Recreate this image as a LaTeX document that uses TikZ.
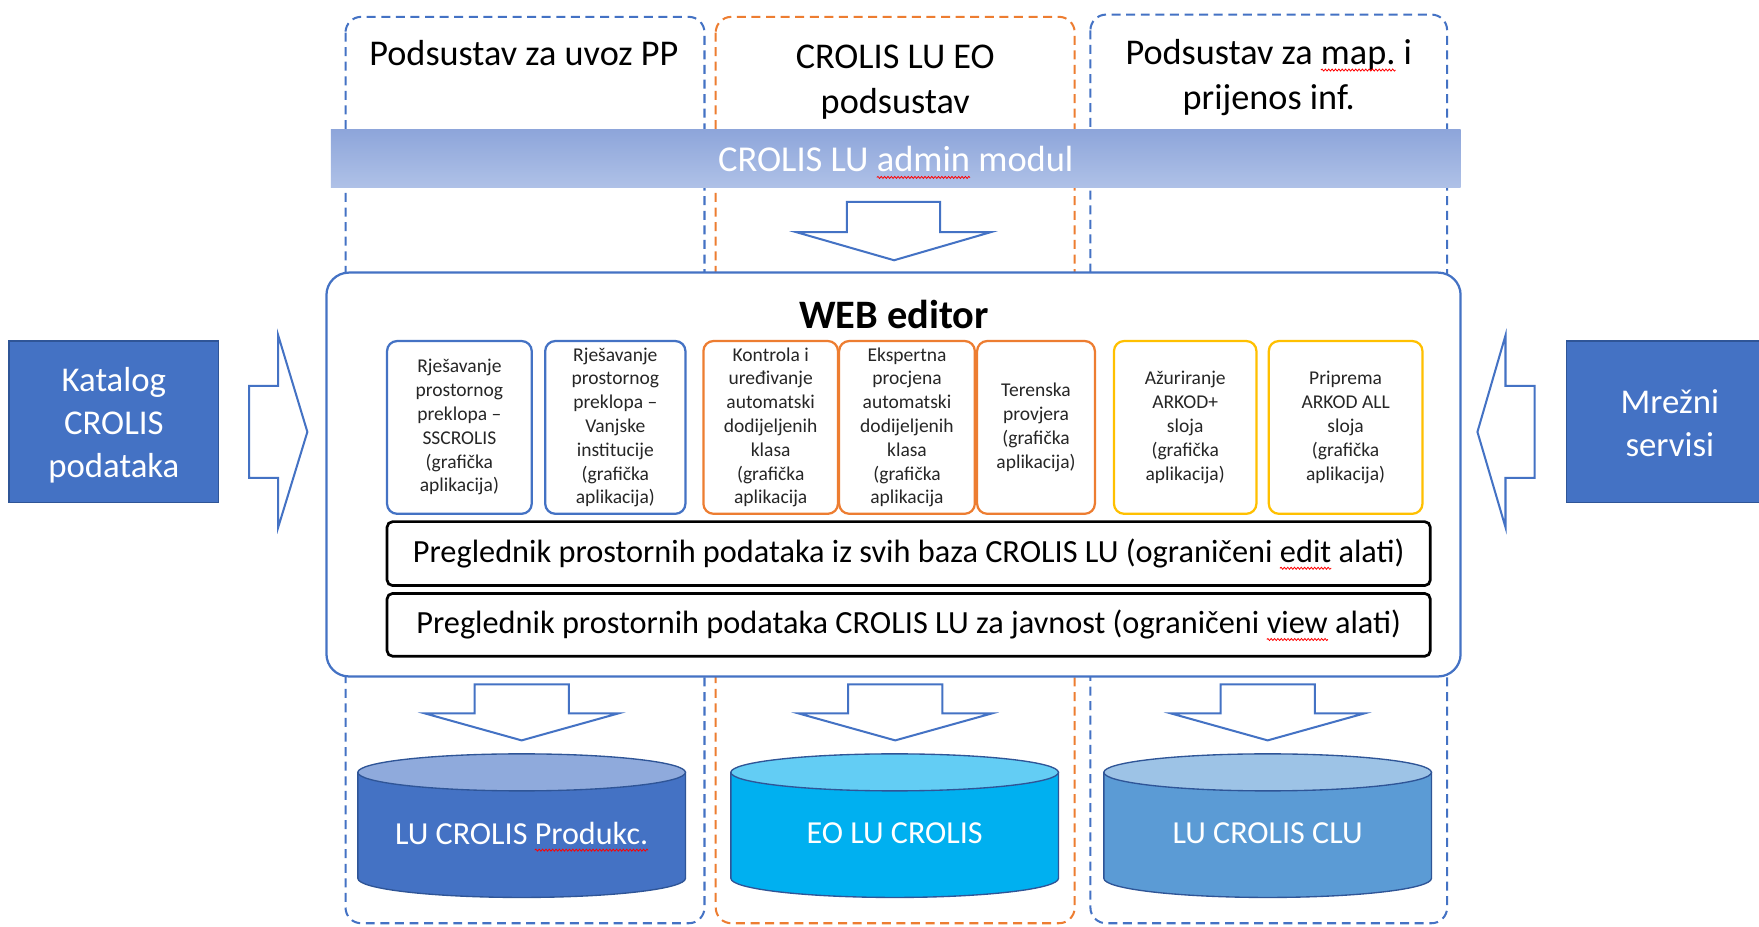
\documentclass[tikz,border=0pt]{standalone}
\usepackage{fontspec}
\setmainfont{Carlito}
\usetikzlibrary{decorations.pathmorphing}
\newcommand\spl[1]{\tikz[baseline=0pt]{\node[anchor=base west, inner sep=0pt, outer sep=0pt,
    minimum width=0pt, minimum height=0pt, draw=none, fill=none, rounded corners=0pt] (spw) at (0,0) {#1};
  \draw[overlay, red, line width=0.7pt, rounded corners=0pt, dash pattern=, decorate, decoration={snake, amplitude=0.9pt, segment length=3pt}]
    ([yshift=-5pt]spw.base west) -- ([yshift=-5pt]spw.base east);}}
\definecolor{cblue}{HTML}{4472C4}
\definecolor{corange}{HTML}{ED7D31}
\definecolor{cgold}{HTML}{FFC000}
\definecolor{cdark}{HTML}{2F5597}
\definecolor{adminTop}{HTML}{8DA5DA}
\definecolor{adminBot}{HTML}{AFC1E7}
\definecolor{cylAbody}{HTML}{4472C4}
\definecolor{cylAtop}{HTML}{8FAADC}
\definecolor{cylBbody}{HTML}{00B0F0}
\definecolor{cylBtop}{HTML}{63CDF4}
\definecolor{cylCbody}{HTML}{5B9BD5}
\definecolor{cylCtop}{HTML}{9DC3E6}
\tikzset{
  column/.style={dash pattern=on 8pt off 5pt, line width=1.8pt, rounded corners=14pt},
  hdr/.style={font=\fontsize{32.3}{40}\selectfont, align=center, inner sep=0pt},
  subbox/.style={draw, line width=2pt, rounded corners=9pt, fill=white, minimum height=154pt,
     inner sep=0pt, align=center, font=\fontsize{17.4}{21.2}\selectfont, text=black!85},
  widebox/.style={draw=black, line width=2.4pt, rounded corners=5pt, fill=white, minimum width=930pt,
     inner sep=0pt, align=center, font=\fontsize{28.8}{32}\selectfont},
  sidebox/.style={draw=cdark, line width=1pt, fill=cblue, minimum width=187pt, minimum height=144pt,
     inner sep=0pt},
  sidetext/.style={align=center, text=white, inner sep=0pt, font=\fontsize{31}{38.5}\selectfont},
  blockarrow/.style={draw=cblue, line width=1.8pt, fill=white, line join=miter},
  cyltext/.style={text=white, font=\fontsize{28.6}{32}\selectfont, inner sep=0pt},
}
\begin{document}
\begin{tikzpicture}[x=1pt,y=1pt]
\clip (0,0) rectangle (1568,-826);
\fill[white] (0,0) rectangle (1568,-826);

% dashed columns
\draw[column, draw=cblue] (308,-15) rectangle (628,-823);
\draw[column, draw=corange] (638,-15) rectangle (958,-823);
\draw[column, draw=cblue] (972,-13) rectangle (1290,-823);

% headers
\node[hdr] (h1) at (467,-47) {Podsustav za uvoz PP};
\node[hdr] (h2) at (798,-73) {CROLIS LU EO\\podsustav};
\node[hdr] (h3) at (1131,-69) {Podsustav za \spl{map.} i\\prijenos inf.};

% admin bar
\shade[top color=adminTop, bottom color=adminBot] (295,-115) rectangle (1302,-167);
\coordinate (adminc) at (798.5,-142);
\node[inner sep=0pt, text=white, font=\fontsize{32.5}{38}\selectfont] (admin) at (adminc) {CROLIS LU \spl{admin} modul};

% arrow from admin to web editor
\draw[blockarrow] (755,-180) -- (838,-180) -- (838,-207) -- (883,-207) -- (797,-232) -- (710,-207) -- (755,-207) -- cycle;

% WEB editor container
\node[draw=cblue, line width=2pt, rounded corners=20pt, fill=white, minimum width=1011pt, minimum height=360pt,
      inner sep=0pt] (web) at (796.5,-423) {};
\node[font=\bfseries\fontsize{36}{42}\selectfont, inner sep=0pt] (webt) at (797,-280) {WEB editor};

% sub applications
\node[subbox, draw=cblue, minimum width=129pt] (b1) at (409.5,-381)
  {Rješavanje\\prostornog\\preklopa –\\SSCROLIS\\(grafička\\aplikacija)};
\node[subbox, draw=cblue, minimum width=125pt] (b2) at (548.5,-381)
  {Rješavanje\\prostornog\\preklopa –\\Vanjske\\institucije\\(grafička\\aplikacija)};
\node[subbox, draw=corange, minimum width=120pt] (b3) at (687,-381)
  {Kontrola i\\uređivanje\\automatski\\dodijeljenih\\klasa\\(grafička\\aplikacija};
\node[subbox, draw=corange, minimum width=121pt] (b4) at (808.5,-381)
  {Ekspertna\\procjena\\automatski\\dodijeljenih\\klasa\\(grafička\\aplikacija};
\node[subbox, draw=corange, minimum width=105pt] (b5) at (923.5,-381)
  {Terenska\\provjera\\(grafička\\aplikacija)};
\node[subbox, draw=cgold, minimum width=127pt] (b6) at (1056.5,-381)
  {Ažuriranje\\ARKOD+\\sloja\\(grafička\\aplikacija)};
\node[subbox, draw=cgold, minimum width=137pt] (b7) at (1199.5,-381)
  {Priprema\\ARKOD ALL\\sloja\\(grafička\\aplikacija)};

% viewers
\node[widebox, minimum height=57pt] (v1) at (810,-493.5)
  {Preglednik prostornih podataka iz svih baza CROLIS LU (ograničeni \spl{edit} alati)};
\node[widebox, minimum height=56pt] (v2) at (810,-557)
  {Preglednik prostornih podataka CROLIS LU za javnost (ograničeni \spl{view} alati)};

% side boxes
\node[sidebox] (kat) at (101.5,-376) {};
\node[sidetext] (katt) at (101.5,-379) {Katalog\\CROLIS\\podataka};
\node[sidebox] (mrez) at (1489.5,-376) {};
\node[sidetext] (mrezt) at (1488.5,-377) {Mrežni\\servisi};

% side arrows
\draw[blockarrow] (222,-344) -- (248,-344) -- (248,-299) -- (274,-385) -- (248,-470) -- (248,-426) -- (222,-426) -- cycle;
\draw[blockarrow] (1368,-344) -- (1342,-344) -- (1342,-299) -- (1317,-385) -- (1342,-470) -- (1342,-426) -- (1368,-426) -- cycle;

% bottom arrows
\foreach \cx in {465,798,1130}{
  \draw[blockarrow] (\cx-42,-610) -- (\cx+42,-610) -- (\cx+42,-636) -- (\cx+86,-636) -- (\cx,-660)
     -- (\cx-86,-636) -- (\cx-42,-636) -- cycle;
}

% cylinders
\foreach \cx/\bc/\tc in {465/cylAbody/cylAtop, 797.5/cylBbody/cylBtop, 1130/cylCbody/cylCtop}{
  \draw[fill=\bc, draw=cdark, line width=1.2pt] (\cx-146,-688.5) -- (\cx-146,-783)
     arc[start angle=180, end angle=360, x radius=146, y radius=17] -- (\cx+146,-688.5) -- cycle;
  \draw[fill=\tc, draw=cdark, line width=1.2pt] (\cx,-688.5) ellipse[x radius=146, y radius=16.5];
}
\node[cyltext] (d1) at (465,-743) {LU CROLIS \spl{Produkc.}};
\node[cyltext] (d2) at (797.5,-743) {EO LU CROLIS};
\node[cyltext] (d3) at (1130,-743) {LU CROLIS CLU};
\end{tikzpicture}
\end{document}
